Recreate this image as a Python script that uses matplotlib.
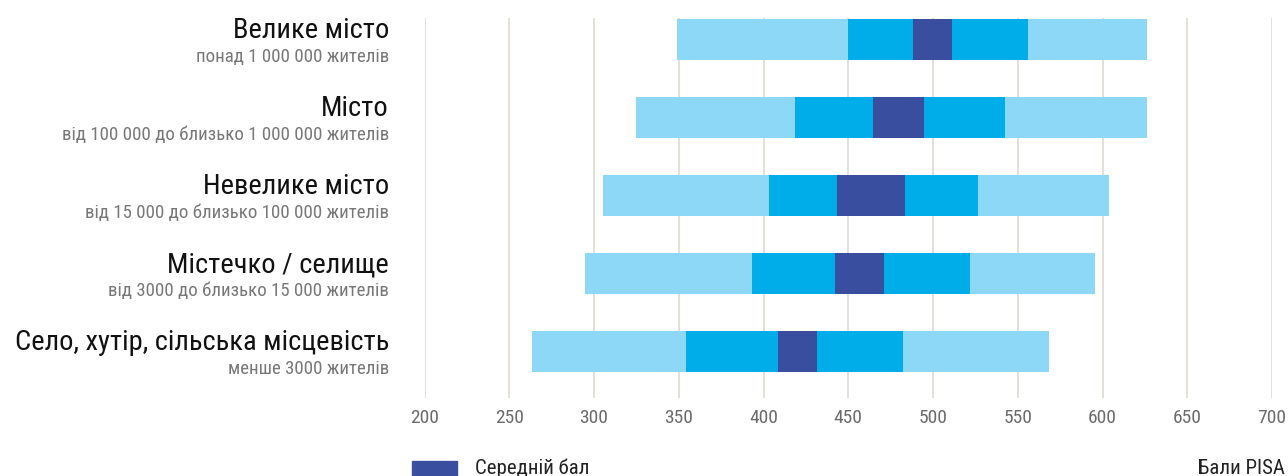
import matplotlib
matplotlib.use("Agg")
import matplotlib.pyplot as plt
from matplotlib.patches import Rectangle

plt.rcParams['font.family'] = ['Roboto Condensed', 'Liberation Sans Narrow', 'Roboto', 'DejaVu Sans']

# Тип населеного пункту та бали PISA
places = ['Велике місто', 'Місто', 'Невелике місто', 'Містечко / селище',
          'Село, хутір, сільська місцевість']
sizes = ['понад 1 000 000 жителів',
         'від 100 000 до близько 1 000 000 жителів',
         'від 15 000 до близько 100 000 жителів',
         'від 3000 до близько 15 000 жителів',
         'менше 3000 жителів']

p5 = [349, 325, 305.5, 294.5, 263.5]
p25 = [450, 418.5, 403.5, 393, 354.5]
mean_lo = [488, 464.5, 443.5, 442.3, 408.6]
mean_hi = [511, 494.6, 483.5, 471.2, 431.7]
p75 = [556, 542.4, 526.5, 521.8, 482.3]
p95 = [626.5, 626.5, 603.7, 595.5, 568.6]

xticks = list(range(200, 701, 50))

light = '#8dd7f7'
mid = '#00ade9'
navy = '#3a4ea0'

W, H = 1288, 476
fig = plt.figure(figsize=(W / 100, H / 100), dpi=100)
ax = fig.add_axes([424.5 / W, 78 / H, 847.5 / W, 380 / H])

ys = list(range(len(places)))
h = 0.522

def seg(a, b, c):
    ax.barh(ys, [bb - aa for aa, bb in zip(a, b)], left=a, height=h, color=c, linewidth=0)

seg(p5, p25, light)
seg(p25, mean_lo, mid)
seg(mean_lo, mean_hi, navy)
seg(mean_hi, p75, mid)
seg(p75, p95, light)

ax.set_xlim(200, 700)
ax.set_ylim(4.597, -0.274)
ax.set_xticks(xticks)
ax.set_yticks([])
ax.grid(axis='x', color='#e2dcd6', linewidth=1.3)
ax.set_axisbelow(True)
for s in ax.spines.values():
    s.set_visible(False)
ax.tick_params(axis='x', length=0, pad=8, labelsize=14, labelcolor='#6b6b6b')

tr = ax.get_yaxis_transform()
xl = (389 - 424.5) / 847.5
for i, (p, s) in enumerate(zip(places, sizes)):
    ax.text(xl, i - 0.018, p, transform=tr, ha='right', va='baseline',
            fontsize=20.5, color='#111111', clip_on=False)
    ax.text(xl, i + 0.294, s, transform=tr, ha='right', va='baseline',
            fontsize=13.6, color='#787878', clip_on=False)

# легенда
fig.patches.append(Rectangle((412 / W, -0.01), 45 / W, 15 / H + 0.01,
                             transform=fig.transFigure, color=navy))
fig.text(475 / W, 2 / H, 'Середній бал', fontsize=15, color='#222222',
         ha='left', va='baseline')
fig.text(1285 / W, 2 / H, 'Бали PISA', fontsize=15, color='#222222',
         ha='right', va='baseline')

fig.savefig('out.png', dpi=100)
